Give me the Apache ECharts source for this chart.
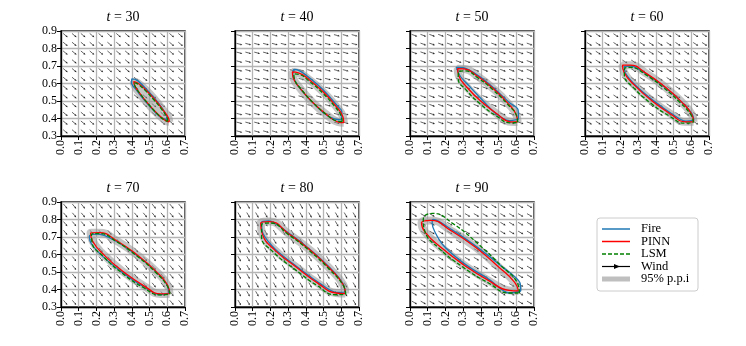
<!DOCTYPE html>
<html>
<head>
<meta charset="utf-8">
<script src="https://cdn.jsdelivr.net/npm/echarts@6/dist/echarts.min.js"></script>
<style>
  html, body { margin: 0; background: #fff; }
  #chart { width: 746px; height: 346px; }
</style>
</head>
<body>
<div id="chart"></div>
<script>
// one panel per time step
const times = [30, 40, 50, 60, 70, 80, 90];
// wind direction (degrees, counter-clockwise from +x) per panel
const windAngles = [-40, -15, -20, -33, -50, -60, -30];
const windXs = [0.025, 0.075, 0.125, 0.175, 0.225, 0.275, 0.325, 0.375, 0.425, 0.475, 0.525, 0.575, 0.625, 0.675];
const windYs = [0.325, 0.375, 0.425, 0.475, 0.525, 0.575, 0.625, 0.675, 0.725, 0.775, 0.825, 0.875];

// fire front traced from the simulation
const firePoints = [
  [[0.602,0.392],[0.598,0.410],[0.574,0.455],[0.530,0.513],[0.478,0.572],[0.430,0.618],[0.400,0.626],[0.398,0.605],[0.428,0.560],[0.470,0.505],[0.520,0.448],[0.565,0.405],[0.602,0.392]],
  [[0.600,0.392],[0.603,0.440],[0.580,0.470],[0.505,0.556],[0.425,0.628],[0.365,0.672],[0.335,0.680],[0.326,0.650],[0.360,0.580],[0.430,0.500],[0.500,0.432],[0.560,0.398],[0.600,0.392]],
  [[0.612,0.395],[0.610,0.450],[0.560,0.492],[0.475,0.572],[0.385,0.645],[0.300,0.690],[0.262,0.692],[0.285,0.640],[0.335,0.585],[0.395,0.520],[0.480,0.432],[0.560,0.388],[0.612,0.395]],
  [[0.615,0.390],[0.605,0.425],[0.545,0.495],[0.448,0.580],[0.345,0.655],[0.258,0.700],[0.222,0.695],[0.228,0.660],[0.285,0.590],[0.382,0.505],[0.486,0.430],[0.570,0.385],[0.615,0.390]],
  [[0.608,0.378],[0.600,0.425],[0.533,0.505],[0.425,0.597],[0.308,0.677],[0.210,0.716],[0.160,0.705],[0.172,0.660],[0.240,0.585],[0.350,0.495],[0.465,0.417],[0.560,0.370],[0.608,0.378]],
  [[0.620,0.385],[0.612,0.430],[0.540,0.520],[0.428,0.625],[0.303,0.722],[0.190,0.792],[0.150,0.785],[0.158,0.720],[0.230,0.628],[0.350,0.530],[0.472,0.440],[0.572,0.384],[0.620,0.385]],
  [[0.625,0.390],[0.620,0.440],[0.520,0.530],[0.375,0.645],[0.235,0.742],[0.130,0.800],[0.125,0.780],[0.140,0.730],[0.190,0.650],[0.310,0.545],[0.450,0.455],[0.560,0.380],[0.625,0.390]]
];

// PINN front (also the centre of the 95% band)
const pinnPoints = [
  [[0.611,0.381],[0.606,0.404],[0.575,0.451],[0.528,0.510],[0.476,0.566],[0.433,0.603],[0.411,0.611],[0.416,0.588],[0.447,0.541],[0.494,0.482],[0.546,0.426],[0.589,0.389],[0.611,0.381]],
  [[0.614,0.376],[0.609,0.410],[0.567,0.474],[0.499,0.551],[0.422,0.619],[0.358,0.661],[0.324,0.666],[0.329,0.632],[0.371,0.568],[0.439,0.491],[0.516,0.423],[0.580,0.381],[0.614,0.376]],
  [[0.607,0.380],[0.601,0.419],[0.552,0.488],[0.472,0.569],[0.382,0.641],[0.308,0.683],[0.269,0.685],[0.275,0.646],[0.324,0.576],[0.405,0.495],[0.494,0.424],[0.568,0.381],[0.607,0.380]],
  [[0.613,0.381],[0.603,0.423],[0.542,0.498],[0.446,0.585],[0.341,0.661],[0.255,0.705],[0.212,0.705],[0.221,0.663],[0.282,0.588],[0.378,0.501],[0.483,0.426],[0.569,0.381],[0.613,0.381]],
  [[0.613,0.376],[0.602,0.424],[0.535,0.505],[0.428,0.599],[0.312,0.680],[0.216,0.725],[0.167,0.724],[0.178,0.677],[0.245,0.595],[0.352,0.501],[0.468,0.421],[0.564,0.375],[0.613,0.376]],
  [[0.623,0.377],[0.611,0.427],[0.538,0.517],[0.425,0.624],[0.301,0.720],[0.195,0.788],[0.145,0.780],[0.155,0.715],[0.225,0.625],[0.345,0.529],[0.469,0.435],[0.571,0.380],[0.623,0.377]],
  [[0.612,0.392],[0.591,0.441],[0.502,0.527],[0.370,0.642],[0.229,0.738],[0.117,0.795],[0.065,0.780],[0.085,0.728],[0.174,0.641],[0.306,0.539],[0.447,0.449],[0.559,0.395],[0.612,0.392]]
];

// level-set method front
const lsmPoints = [
  [[0.603,0.385],[0.598,0.405],[0.570,0.450],[0.524,0.507],[0.474,0.562],[0.432,0.598],[0.413,0.604],[0.418,0.584],[0.449,0.538],[0.496,0.480],[0.545,0.425],[0.585,0.390],[0.603,0.385]],
  [[0.605,0.382],[0.600,0.412],[0.560,0.472],[0.494,0.546],[0.420,0.612],[0.360,0.652],[0.332,0.655],[0.336,0.626],[0.377,0.563],[0.444,0.487],[0.518,0.421],[0.578,0.385],[0.605,0.382]],
  [[0.608,0.378],[0.603,0.412],[0.550,0.482],[0.470,0.562],[0.382,0.633],[0.310,0.672],[0.276,0.668],[0.272,0.630],[0.318,0.562],[0.398,0.482],[0.490,0.413],[0.565,0.375],[0.608,0.378]],
  [[0.612,0.378],[0.600,0.418],[0.538,0.490],[0.442,0.577],[0.340,0.652],[0.258,0.692],[0.225,0.688],[0.222,0.650],[0.275,0.575],[0.370,0.488],[0.478,0.413],[0.565,0.373],[0.612,0.378]],
  [[0.615,0.373],[0.600,0.420],[0.532,0.500],[0.425,0.594],[0.310,0.676],[0.218,0.720],[0.172,0.716],[0.175,0.670],[0.240,0.588],[0.346,0.493],[0.462,0.413],[0.560,0.369],[0.615,0.373]],
  [[0.625,0.372],[0.612,0.422],[0.536,0.512],[0.422,0.620],[0.300,0.715],[0.198,0.780],[0.150,0.770],[0.150,0.705],[0.218,0.612],[0.338,0.515],[0.463,0.423],[0.567,0.370],[0.625,0.372]],
  [[0.618,0.380],[0.605,0.440],[0.515,0.535],[0.385,0.660],[0.245,0.775],[0.128,0.835],[0.075,0.800],[0.085,0.730],[0.168,0.632],[0.300,0.527],[0.443,0.437],[0.560,0.380],[0.618,0.380]]
];

const FONT = 'Liberation Serif';
const colLeft = [61, 235, 410, 585];
const rowTop = [31, 202];
const PW = 124, PH = 105;

const chart = echarts.init(document.getElementById('chart'));
const grids = [], xAxes = [], yAxes = [], series = [], graphics = [];

function windArrow(params, api) {
  const p = api.coord([api.value(0), api.value(1)]);
  const a = api.value(2) * Math.PI / 180;
  const dx = Math.cos(a), dy = -Math.sin(a);
  const x0 = p[0] - dx * 3, y0 = p[1] - dy * 3;
  const x1 = p[0] + dx * 3, y1 = p[1] + dy * 3;
  const bx = x1 - dx * 2, by = y1 - dy * 2;
  return {
    type: 'group',
    children: [
      { type: 'line', shape: { x1: x0, y1: y0, x2: bx, y2: by }, style: { stroke: '#222', lineWidth: 0.7 } },
      { type: 'polygon', shape: { points: [[x1, y1], [bx - dy, by + dx], [bx + dy, by - dx]] }, style: { fill: '#222' } }
    ]
  };
}

times.forEach((t, i) => {
  const col = i % 4, row = Math.floor(i / 4);
  const left = colLeft[col], top = rowTop[row];
  grids.push({ left: left, top: top, width: PW, height: PH, show: true, borderColor: '#000', borderWidth: 1.3 });
  xAxes.push({
    gridIndex: i, type: 'value', min: 0, max: 0.7, interval: 0.1,
    axisLine: { show: true, onZero: false, lineStyle: { color: '#000', width: 1.3 } },
    axisTick: { show: true, length: 4, lineStyle: { color: '#000', width: 1 } },
    axisLabel: { show: true, rotate: 90, margin: 4, fontFamily: FONT, fontSize: 12, color: '#000', formatter: v => v.toFixed(1) },
    splitLine: { show: true, lineStyle: { color: '#b4b4b4', width: 1.3 } }
  });
  yAxes.push({
    gridIndex: i, type: 'value', min: 0.3, max: 0.9, interval: 0.1,
    axisLine: { show: true, onZero: false, lineStyle: { color: '#000', width: 1.3 } },
    axisTick: { show: true, length: 4, lineStyle: { color: '#000', width: 1 } },
    axisLabel: { show: col === 0, margin: 4, fontFamily: FONT, fontSize: 12, color: '#000', formatter: v => v.toFixed(1) },
    splitLine: { show: true, lineStyle: { color: '#b4b4b4', width: 1.3 } }
  });

  const windData = [];
  windXs.forEach(x => windYs.forEach(y => windData.push([x, y, windAngles[i]])));
  series.push({ type: 'custom', name: 'Wind', xAxisIndex: i, yAxisIndex: i, data: windData, renderItem: windArrow, clip: true, silent: true, z: 2 });
  series.push({ type: 'line', name: 'Fire', xAxisIndex: i, yAxisIndex: i, data: firePoints[i], symbol: 'none', smooth: 0.3, silent: true, z: 4, lineStyle: { color: '#1f77b4', width: 1.3 } });
  series.push({ type: 'line', name: 'PINN', xAxisIndex: i, yAxisIndex: i, data: pinnPoints[i], symbol: 'none', smooth: 0.5, silent: true, z: 5, lineStyle: { color: '#ff0000', width: 1.3 } });
  series.push({ type: 'line', name: 'LSM', xAxisIndex: i, yAxisIndex: i, data: lsmPoints[i], symbol: 'none', smooth: 0.5, silent: true, z: 6, lineStyle: { color: '#008000', width: 1.3, type: [4, 2] } });
  // band goes last in the list, but sits under the lines by z
  series.push({ type: 'line', name: '95% p.p.i', xAxisIndex: i, yAxisIndex: i, data: pinnPoints[i].map(p => [p[0], p[1]]), symbol: 'none', smooth: 0.5, silent: true, z: 3, lineStyle: { color: 'rgba(150,150,150,0.55)', width: 8 } });

  graphics.push({
    type: 'text', x: left + PW / 2, y: top - 14,
    style: {
      text: '{i|t}{n| = ' + t + '}', align: 'center', verticalAlign: 'middle', fill: '#000',
      rich: {
        i: { fontFamily: FONT, fontSize: 14, fontStyle: 'italic', fill: '#000' },
        n: { fontFamily: FONT, fontSize: 14, fill: '#000' }
      }
    }
  });
});

// legend box
const LX = 597, LY = 218;
const rowsY = [229, 241.5, 254, 266.5, 279];
const legendNames = ['Fire', 'PINN', 'LSM', 'Wind', '95% p.p.i'];
graphics.push({ type: 'rect', shape: { x: LX, y: LY, width: 101, height: 73, r: 3 }, style: { fill: '#fff', stroke: '#cccccc', lineWidth: 1 } });
graphics.push({ type: 'line', shape: { x1: 602, y1: rowsY[0], x2: 630, y2: rowsY[0] }, style: { stroke: '#1f77b4', lineWidth: 1.5 } });
graphics.push({ type: 'line', shape: { x1: 602, y1: rowsY[1], x2: 630, y2: rowsY[1] }, style: { stroke: '#ff0000', lineWidth: 1.5 } });
graphics.push({ type: 'line', shape: { x1: 602, y1: rowsY[2], x2: 630, y2: rowsY[2] }, style: { stroke: '#008000', lineWidth: 1.5, lineDash: [4, 2] } });
graphics.push({ type: 'line', shape: { x1: 602, y1: rowsY[3], x2: 630, y2: rowsY[3] }, style: { stroke: '#000', lineWidth: 1.2 } });
graphics.push({ type: 'polygon', shape: { points: [[620, rowsY[3]], [614, rowsY[3] - 2.5], [614, rowsY[3] + 2.5]] }, style: { fill: '#000' } });
graphics.push({ type: 'rect', shape: { x: 602, y: rowsY[4] - 2.5, width: 28, height: 5 }, style: { fill: '#bfbfbf' } });
legendNames.forEach((n, k) => {
  graphics.push({ type: 'text', x: 641, y: rowsY[k], style: { text: n, fontFamily: FONT, fontSize: 12.5, fill: '#000', verticalAlign: 'middle' } });
});

chart.setOption({ animation: false, grid: grids, xAxis: xAxes, yAxis: yAxes, series: series, graphic: graphics });
</script>
</body>
</html>
